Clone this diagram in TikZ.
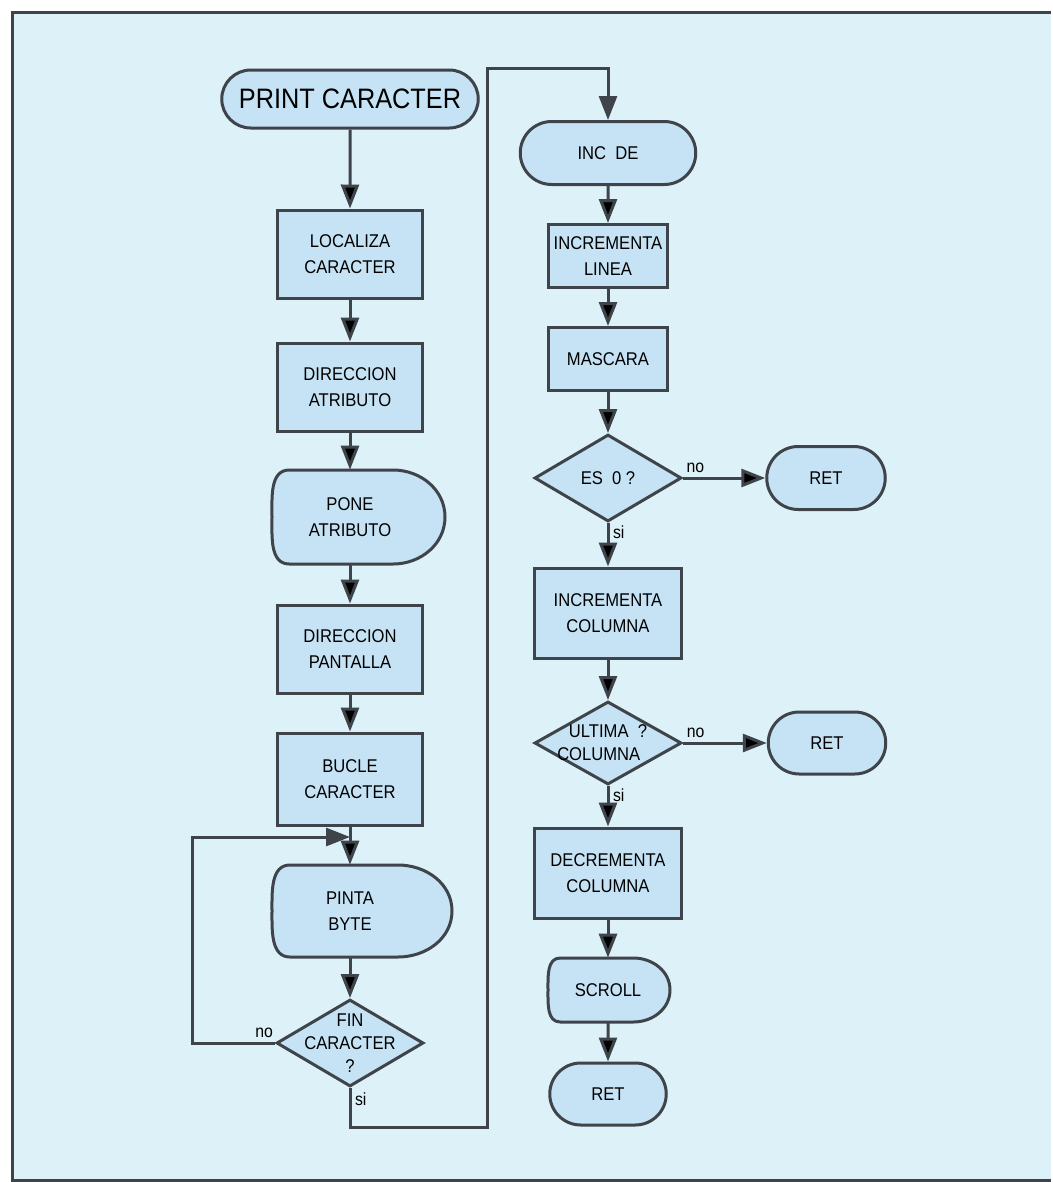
\documentclass[tikz,border=0pt]{standalone}
\usepackage{fontspec}
\newfontfamily\chartfont[FakeStretch=0.9]{Liberation Sans}
\usetikzlibrary{shapes.geometric,shapes.misc,arrows.meta}

\definecolor{paper}{RGB}{221,241,249}
\definecolor{boxfill}{RGB}{198,227,245}
\definecolor{ink}{RGB}{62,68,74}

\newcommand{\dispbox}[7]{%
    \pgfmathsetmacro{\dispW}{#2-#4}
    \pgfmathsetmacro{\dispE}{#2+#5}
    \pgfmathsetmacro{\dispL}{#2-#4+0.1*(#4+#5)}
    \pgfmathsetmacro{\dispR}{#2+#5-0.3*(#4+#5)}
    \pgfmathsetmacro{\dispT}{#3-#6}
    \pgfmathsetmacro{\dispB}{#3+#6}
    \filldraw[disp] (\dispL,\dispT) -- (\dispR,\dispT)
        to[out=0,in=90] (\dispE,#3) to[out=-90,in=0] (\dispR,\dispB)
        -- (\dispL,\dispB) to[out=180,in=-90] (\dispW,#3)
        to[out=90,in=180] cycle;
    \node[plain, minimum height={#6*0.4mm}] (#1) at (#2,#3) {#7};
}

\begin{document}
\begin{tikzpicture}[x=0.2mm,y=-0.2mm]
            \tikzset{
                flow/.style = {draw=ink, line width=0.6mm},
                arr/.style = {-{Triangle[length=4.8mm,width=3.6mm]}},
                plain/.style = {align=center, inner sep=1pt, font=\chartfont\fontsize{10.5}{15}\selectfont},
                process/.style = {plain, rectangle, draw=ink, fill=boxfill, line width=0.6mm},
                terminal/.style = {plain, rounded rectangle, draw=ink, fill=boxfill, line width=0.6mm},
                decision/.style = {plain, diamond, aspect=1.7, inner sep=0pt, draw=ink, fill=boxfill, line width=0.6mm},
                disp/.style = {draw=ink, fill=boxfill, line width=0.6mm},
                lbl/.style = {font=\chartfont\fontsize{10}{12}\selectfont, inner sep=2pt},
                every label/.style = {align=center, font=\chartfont\fontsize{10.5}{13}\selectfont}
            }
            {
                \fill[white] (0,0) rectangle (1051,1182);
                \fill[paper] (12,12) rectangle (1051,1180);
                \draw[flow] (1051,12) -- (12,12) -- (12,1180) -- (1051,1180);

                \node[terminal, minimum width=52mm, minimum height=11.6mm, font=\chartfont\fontsize{16}{18}\selectfont] (prt) at (350, 99) {PRINT CARACTER};
                \node[process, minimum width=29mm, minimum height=17.6mm] (loc) at (350, 254) {LOCALIZA\\CARACTER};
                \node[process, minimum width=29mm, minimum height=17.6mm] (dirat) at (350, 387) {DIRECCION\\ATRIBUTO};
                \dispbox{pone}{350}{517}{78}{95}{47}{PONE\\ATRIBUTO}
                \node[process, minimum width=29mm, minimum height=17.6mm] (dirpa) at (350, 649) {DIRECCION\\PANTALLA};
                \node[process, minimum width=29mm, minimum height=18.4mm] (bucle) at (350, 779) {BUCLE\\CARACTER};
                \dispbox{pinta}{350}{911}{78}{102}{46}{PINTA\\BYTE}
                \node[decision, minimum width=29.4mm, minimum height=17.4mm, label=center:{FIN\\CARACTER\\?}] (fin) at (350, 1043) {};

                \node[terminal, minimum width=35.8mm, minimum height=12.6mm] (incde) at (608, 153) {INC\enspace DE};
                \node[process, minimum width=23.8mm, minimum height=12.6mm] (inclin) at (608, 256) {INCREMENTA\\LINEA};
                \node[process, minimum width=23.8mm, minimum height=12.6mm] (masc) at (608, 359) {MASCARA};
                \node[decision, minimum width=29.4mm, minimum height=17.4mm] (es0) at (608, 478) {ES\enspace 0 ?};
                \node[terminal, minimum width=24.4mm, minimum height=12.6mm] (ret1) at (826, 478) {RET};
                \node[process, minimum width=29.4mm, minimum height=18mm] (inccol) at (608, 613) {INCREMENTA\\COLUMNA};
                \node[decision, minimum width=29.4mm, minimum height=16.6mm, label=center:{ULTIMA\enspace ?\\COLUMNA\phantom{\enspace ?}}] (ult) at (608, 743) {};
                \node[terminal, minimum width=24.2mm, minimum height=12.4mm] (ret2) at (827, 743) {RET};
                \node[process, minimum width=29.4mm, minimum height=18mm] (deccol) at (608, 873) {DECREMENTA\\COLUMNA};
                \dispbox{scroll}{608}{990}{60}{62}{32}{SCROLL}
                \node[terminal, minimum width=24mm, minimum height=12.4mm] (ret3) at (608, 1094) {RET};

                \coordinate (join) at (350, 837);
                \coordinate (loopL) at (192, 1043);
                \coordinate (bendA) at (487, 1127);
                \coordinate (bendB) at (487, 68);
            }

            \draw[flow] (prt) edge[arr] (loc);
            \draw[flow] (loc) edge[arr] (dirat);
            \draw[flow] (dirat) edge[arr] (pone);
            \draw[flow] (pone) edge[arr] (dirpa);
            \draw[flow] (dirpa) edge[arr] (bucle);
            \draw[flow] (bucle) edge[arr] (pinta);
            \draw[flow] (pinta) edge[arr] (fin);
            \draw[flow, arr] (fin.west) -- node[lbl, above, pos=0.13] {no} (loopL) |- (join);
            \draw[flow, arr] (fin.south) -- node[lbl, anchor=west, pos=0.3] {si} (fin.south |- bendA) -- (bendA) -- (bendB) -| (incde.north);

            \draw[flow] (incde) edge[arr] (inclin);
            \draw[flow] (inclin) edge[arr] (masc);
            \draw[flow] (masc) edge[arr] (es0);
            \draw[flow] (es0) edge[arr] node[lbl, above, pos=0.15] {no} (ret1);
            \draw[flow] (es0) edge[arr] node[lbl, anchor=west, pos=0.22] {si} (inccol);
            \draw[flow] (inccol) edge[arr] (ult);
            \draw[flow] (ult) edge[arr] node[lbl, above, pos=0.15] {no} (ret2);
            \draw[flow] (ult) edge[arr] node[lbl, anchor=west, pos=0.22] {si} (deccol);
            \draw[flow] (deccol) edge[arr] (scroll);
            \draw[flow] (scroll) edge[arr] (ret3);

        \end{tikzpicture}
\end{document}
